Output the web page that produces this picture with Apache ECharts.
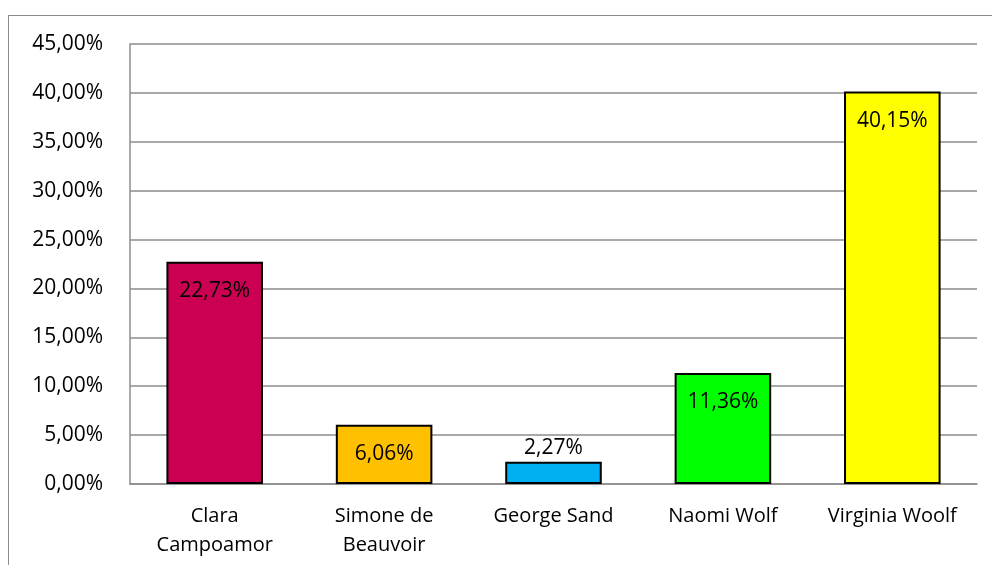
<!DOCTYPE html>
<html><head><meta charset="utf-8">
<script src="https://cdn.jsdelivr.net/npm/echarts@6/dist/echarts.min.js"></script>
<style>html,body{margin:0;padding:0;background:#fff}#c{width:992px;height:565px}
#frame{position:absolute;left:8px;top:15px;width:990px;height:560px;border:1px solid #8c8c8c;pointer-events:none}</style>
</head><body><div id="c"></div><div id="frame"></div>
<script>
const categories = ["Clara\nCampoamor", "Simone de\nBeauvoir", "George Sand", "Naomi Wolf", "Virginia Woolf"];
const values = [22.73, 6.06, 2.27, 11.36, 40.15];
const colors = ["#CC0052", "#FFC000", "#00B0F0", "#00FF00", "#FFFF00"];
const labelPositions = ["insideTop", "insideTop", "top", "insideTop", "insideTop"];
const yTicks = { min: 0, max: 45, interval: 5 };

const fmt = v => v.toFixed(2).replace('.', ',') + '%';
const chart = echarts.init(document.getElementById('c'));
chart.setOption({
  animation: false,
  textStyle: { fontFamily: 'Open Sans' },
  grid: { left: 130, right: 15, top: 44, bottom: 81 },
  xAxis: {
    type: 'category', data: categories,
    axisLine: { lineStyle: { color: '#8c8c8c', width: 1.5 } },
    axisTick: { show: false },
    axisLabel: { color: '#000', fontSize: 20, lineHeight: 29, margin: 18, interval: 0, fontFamily: 'Open Sans' }
  },
  yAxis: {
    type: 'value', min: yTicks.min, max: yTicks.max, interval: yTicks.interval,
    axisLine: { show: true, lineStyle: { color: '#8c8c8c', width: 1.5 } },
    axisTick: { show: false },
    splitLine: { lineStyle: { color: '#8c8c8c', width: 1.5 } },
    axisLabel: { color: '#000', fontSize: 21, margin: 27, formatter: v => fmt(v), fontFamily: 'Open Sans' }
  },
  series: [{
    type: 'bar', barWidth: '57%',
    data: values.map((v, i) => ({
      value: v,
      itemStyle: { color: colors[i], borderColor: '#000', borderWidth: 2 },
      label: { show: true, position: labelPositions[i], distance: labelPositions[i] === 'top' ? 3 : 19 }
    })),
    label: { color: '#000', fontSize: 21, formatter: p => fmt(p.value), fontFamily: 'Open Sans' }
  }]
});
</script></body></html>
